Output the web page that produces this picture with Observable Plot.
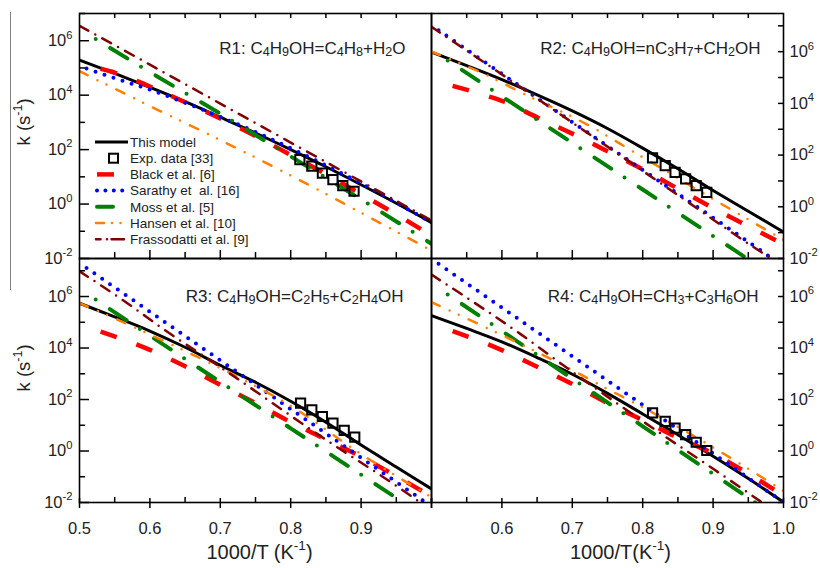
<!DOCTYPE html>
<html><head><meta charset="utf-8">
<script src="https://cdn.jsdelivr.net/npm/d3@7"></script>
<script src="https://cdn.jsdelivr.net/npm/@observablehq/plot@0.6"></script>
<style>
body{margin:0;background:#fff;}
#chart{position:relative;width:820px;height:568px;overflow:hidden;font-family:"Liberation Sans",Arial,sans-serif;background:#fff;}
#chart svg{position:absolute;}
</style></head><body><div id="chart"></div>
<script>
// ---------- data (x = 1000/T, values = log10 k) ----------
const modelX = [0.5,0.55,0.6,0.65,0.7,0.75,0.8,0.85,0.9,0.95,1.0];
const r1ModelLogK = [5.29,4.80,4.29,3.76,3.19,2.61,2.00,1.37,0.71,0.03,-0.68];
const r2ModelLogK = [5.98,5.46,4.92,4.33,3.71,3.03,2.27,1.47,0.63,-0.17,-0.98];
const r3ModelLogK = [5.74,5.21,4.66,4.03,3.33,2.67,1.93,1.12,0.23,-0.62,-1.47];
const r4ModelLogK = [5.26,4.76,4.24,3.63,2.98,2.24,1.44,0.63,-0.20,-1.07,-1.99];

const r1ExpX = [0.813,0.830,0.845,0.860,0.874,0.890];
const r1ExpLogK = [1.63,1.39,1.14,0.90,0.68,0.47];
const r2ExpX = [0.814,0.832,0.846,0.861,0.876,0.891];
const r2ExpLogK = [1.89,1.59,1.33,1.08,0.82,0.56];
const r3ExpX = [0.814,0.830,0.845,0.860,0.876,0.891];
const r3ExpLogK = [1.86,1.60,1.34,1.08,0.80,0.54];
const r4ExpX = [0.814,0.832,0.846,0.861,0.876,0.891];
const r4ExpLogK = [1.48,1.15,0.89,0.64,0.34,0.02];

const r1Black = [[0.53,4.97],[0.55,4.83],[0.6,4.32],[0.65,3.74],[0.7,3.14],[0.75,2.50],[0.8,1.80],[0.85,1.10],[0.9,0.36],[0.95,-0.38],[1.0,-1.16]];
const r2Black = [[0.53,4.68],[0.58,4.28],[0.6,4.10],[0.65,3.46],[0.7,2.83],[0.75,2.15],[0.8,1.45],[0.85,0.70],[0.9,-0.05],[0.95,-0.75],[1.0,-1.45]];
const r3Black = [[0.53,4.64],[0.6,3.93],[0.65,3.29],[0.7,2.57],[0.75,1.86],[0.8,1.12],[0.85,0.45],[0.9,-0.22],[0.95,-0.98],[1.0,-1.77]];
const r4Black = [[0.53,4.66],[0.6,3.92],[0.65,3.27],[0.7,2.60],[0.75,1.86],[0.8,1.20],[0.85,0.52],[0.9,-0.10],[0.95,-0.88],[1.0,-1.73]];

const r1Sarathy = [[0.51,4.98],[0.55,4.62],[0.6,4.20],[0.65,3.72],[0.7,3.20],[0.75,2.65],[0.8,2.05],[0.85,1.42],[0.9,0.76],[0.95,0.05],[1.0,-0.68]];
const r2Sarathy = [[0.51,6.83],[0.62,4.77],[0.73,2.72],[0.81,1.24],[0.93,-0.98],[1.0,-2.30]];
const r3Sarathy = [[0.51,7.11],[0.6,5.41],[0.7,3.52],[0.8,1.63],[0.9,-0.26],[1.0,-2.15]];
const r4Sarathy = [[0.51,7.27],[0.6,5.57],[0.7,3.68],[0.8,1.79],[0.9,-0.10],[1.0,-1.99]];

const r1Moss = [[0.523,6.06],[0.6,4.85],[0.7,3.32],[0.8,1.75],[0.9,0.17],[1.0,-1.46]];
const r2Moss = [[0.523,5.66],[0.6,4.27],[0.7,2.47],[0.8,0.67],[0.9,-1.13],[0.96,-2.21]];
const r3Moss = [[0.523,5.88],[0.6,4.48],[0.7,2.68],[0.8,0.88],[0.9,-0.92],[0.98,-2.36]];
const r4Moss = [[0.523,6.08],[0.6,4.66],[0.7,2.81],[0.8,0.96],[0.9,-0.89],[0.98,-2.37]];

const r1Hansen = [[0.5,4.88],[0.6,3.60],[0.7,2.35],[0.8,1.05],[0.9,-0.32],[1.0,-1.71]];
const r2Hansen = [[0.5,6.00],[0.57,5.20],[0.64,4.25],[0.72,3.20],[0.79,2.08],[0.89,0.46],[1.0,-1.28]];
const r3Hansen = [[0.5,5.74],[0.55,5.15],[0.6,4.52],[0.7,3.22],[0.8,1.75],[0.9,-0.12],[1.0,-1.79]];
const r4Hansen = [[0.5,5.78],[0.6,4.50],[0.7,3.15],[0.75,2.41],[0.8,1.70],[0.9,0.14],[1.0,-1.55]];

const r1Frass = [[0.5,6.55],[0.6,5.12],[0.7,3.69],[0.8,2.26],[0.9,0.83],[1.0,-0.60]];
const r2Frass = [[0.5,6.96],[0.62,4.75],[0.73,2.70],[0.84,0.64],[0.97,-1.78],[1.0,-2.30]];
const r3Frass = [[0.5,6.98],[0.57,5.70],[0.62,4.72],[0.7,3.26],[0.84,0.62],[0.97,-1.73],[1.0,-2.32]];
const r4Frass = [[0.5,6.85],[0.626,4.55],[0.7,3.08],[0.826,0.67],[0.9,-0.69],[0.969,-1.99],[1.0,-2.58]];

const seriesNames = ["This model","Exp. data [33]","Black et al. [6]","Sarathy et  al. [16]","Moss et al. [5]","Hansen et al. [10]","Frassodatti et al. [9]"];
const panelTitles = [
  "R1: C_{4}H_{9}OH=C_{4}H_{8}+H_{2}O",
  "R2: C_{4}H_{9}OH=nC_{3}H_{7}+CH_{2}OH",
  "R3: C_{4}H_{9}OH=C_{2}H_{5}+C_{2}H_{4}OH",
  "R4: C_{4}H_{9}OH=CH_{3}+C_{3}H_{6}OH"
];
const yTickValues = [1e-2, 1, 1e2, 1e4, 1e6];
const yTickLabels = ["10^{-2}","10^{0}","10^{2}","10^{4}","10^{6}"];
const yMinorValues = [1e-1, 1e1, 1e3, 1e5, 1e7];
const xMajorValues = [0.6, 0.7, 0.8, 0.9];
const xMinorValues = [0.55, 0.65, 0.75, 0.85, 0.95];
const xEdgeValues = [0.5, 1.0];
const xLabelsLeftValues = [0.5, 0.6, 0.7, 0.8, 0.9];
const xLabelsLeft = ["0.5","0.6","0.7","0.8","0.9"];
const xLabelsRightValues = [0.6, 0.7, 0.8, 0.9, 1.0];
const xLabelsRight = ["0.6","0.7","0.8","0.9","1.0"];
const yTitle = "k (s^{-1})";
const xTitleLeft = "1000/T (K^{-1})";
const xTitleRight = "1000/T(K^{-1})";

// ---------- styles ----------
const S = {
  model:   {stroke:"#000000", strokeWidth:3},
  black:   {stroke:"#ff0000", strokeWidth:4.5, strokeDasharray:"17,21", strokeLinecap:"butt"},
  sarathy: {stroke:"#0000ff", strokeWidth:4, strokeDasharray:"0,9.5", strokeLinecap:"round"},
  moss:    {stroke:"#008000", strokeWidth:4, strokeDasharray:"0,17,20,16", strokeLinecap:"round"},
  hansen:  {stroke:"#ff8000", strokeWidth:2.5, strokeDasharray:"9,11,0,10,0,11", strokeLinecap:"round"},
  frass:   {stroke:"#800000", strokeWidth:2.5, strokeDasharray:"10,8,0,8", strokeLinecap:"round"}
};
const FONT = '"Liberation Sans", Arial, sans-serif';
const chart = document.getElementById("chart");

function richText(svg) {
  svg.querySelectorAll("text").forEach(t => {
    const s = t.textContent;
    if (!/[\^_]\{/.test(s)) return;
    const fs = parseFloat(getComputedStyle(t).fontSize) || 16;
    t.textContent = "";
    const re = /([\^_])\{([^}]*)\}/g;
    let last = 0, shift = 0, m;
    const add = (txt, size, dy) => {
      const ts = document.createElementNS("http://www.w3.org/2000/svg", "tspan");
      ts.textContent = txt;
      if (size) ts.setAttribute("font-size", size);
      if (dy) ts.setAttribute("dy", dy);
      t.appendChild(ts);
    };
    while ((m = re.exec(s))) {
      if (m.index > last) { add(s.slice(last, m.index), null, -shift); shift = 0; }
      const sup = m[1] === "^";
      const d = sup ? -0.45 * fs : 0.12 * fs;
      add(m[2], (sup ? 0.68 : 0.74) * fs, d - shift);
      shift = d;
      last = re.lastIndex;
    }
    if (last < s.length) add(s.slice(last), null, -shift);
  });
}

const toPts = (pairs) => pairs.map(([x, v]) => ({x, k: 10 ** v}));

function panel(cfg) {
  const {left, top, width, height, mL, mR, mT, mB, yMax, model, expX, expLogK,
         black, sarathy, moss, hansen, frass, title, titleDx, titleDy, side, bottom,
         xVals, xLabs, xTitle, xTitleDx, yTitleDy} = cfg;
  const fw = width - mL - mR, fh = height - mT - mB;
  const lineOpts = (st) => ({x: "x", y: "k", curve: "monotone-x", clip: true, strokeLinejoin: "round", ...st});
  const modelPts = modelX.map((x, i) => ({x, k: 10 ** model[i]}));
  const expPts = expX.map((x, i) => ({x, k: 10 ** expLogK[i]}));
  const fmtY = d => yTickLabels[yTickValues.indexOf(d)];
  const marks = [
    Plot.line(modelPts, lineOpts(S.model)),
    Plot.line(toPts(black), lineOpts(S.black)),
    Plot.line(toPts(sarathy), lineOpts(S.sarathy)),
    Plot.line(toPts(moss), lineOpts(S.moss)),
    Plot.line(toPts(hansen), lineOpts(S.hansen)),
    Plot.line(toPts(frass), lineOpts(S.frass)),
    Plot.dot(expPts, {x: "x", y: "k", symbol: "square", r: 5.2, stroke: "#000", strokeWidth: 2, fill: "none"}),
  ];
  if (side === "left") {
    marks.push(Plot.tickY(yTickValues, {y: d => d, insetRight: fw - 10, stroke: "#000", strokeWidth: 1.5}));
    marks.push(Plot.tickY(yMinorValues, {y: d => d, insetRight: fw - 6, stroke: "#000", strokeWidth: 1.5}));
    marks.push(Plot.axisY(yTickValues, {anchor: "left", label: null, tickSize: 0, tickPadding: 7, tickFormat: fmtY, fontSize: 16.5, fill: "#222"}));
    marks.push(Plot.text([yTitle], {text: d => d, frameAnchor: "left", rotate: -90, dx: -55, dy: yTitleDy, fontSize: 18.5, fill: "#222"}));
  } else {
    marks.push(Plot.tickY(yTickValues.concat(yMinorValues), {y: d => d, insetLeft: fw - 5, stroke: "#000", strokeWidth: 1.5}));
    marks.push(Plot.axisY(yTickValues, {anchor: "right", label: null, tickSize: 0, tickPadding: 6, tickFormat: fmtY, fontSize: 16.5, fill: "#222"}));
  }
  if (!bottom) {
    marks.push(Plot.tickX(xMajorValues.concat(xMinorValues), {x: d => d, insetBottom: fh - 5, stroke: "#000", strokeWidth: 1.5}));
    marks.push(Plot.tickX(xMajorValues, {x: d => d, insetTop: fh - 8, insetBottom: -2, stroke: "#000", strokeWidth: 1.5}));
    marks.push(Plot.tickX(xMinorValues, {x: d => d, insetTop: fh - 6, stroke: "#000", strokeWidth: 1.5}));
  } else {
    marks.push(Plot.tickX(xMajorValues.concat(xEdgeValues), {x: d => d, insetTop: fh - 4, insetBottom: -6, stroke: "#000", strokeWidth: 1.5}));
    marks.push(Plot.tickX(xMinorValues, {x: d => d, insetTop: fh - 5, stroke: "#000", strokeWidth: 1.5}));
    marks.push(Plot.axisX(xVals, {anchor: "bottom", label: null, tickSize: 0, tickPadding: 20, fontSize: 16.5, fill: "#222",
      tickFormat: d => xLabs[xVals.indexOf(d)]}));
    marks.push(Plot.text([xTitle], {text: d => d, frameAnchor: "bottom", dx: xTitleDx, dy: 56, fontSize: 20, fill: "#222"}));
  }
  marks.push(Plot.text([title], {text: d => d, frameAnchor: "top-right", textAnchor: "end", dx: titleDx, dy: titleDy, fontSize: 17, fill: "#222"}));
  marks.push(Plot.frame({stroke: "#000", strokeWidth: 1.6}));

  const svg = Plot.plot({
    width, height, marginLeft: mL, marginRight: mR, marginTop: mT, marginBottom: mB,
    x: {domain: [0.5, 1.0], axis: null, label: null},
    y: {type: "log", domain: [0.01, yMax], axis: null, label: null},
    style: {fontFamily: FONT, background: "transparent", overflow: "visible", color: "#222"},
    marks
  });
  svg.style.left = left + "px";
  svg.style.top = top + "px";
  chart.appendChild(svg);
  richText(svg);
}

panel({left: 0, top: 0, width: 431, height: 258, mL: 79, mR: 0, mT: 13, mB: 0, yMax: 1e7,
  model: r1ModelLogK, expX: r1ExpX, expLogK: r1ExpLogK, black: r1Black, sarathy: r1Sarathy, moss: r1Moss, hansen: r1Hansen, frass: r1Frass,
  title: panelTitles[0], titleDx: -26, titleDy: 28.4, side: "left", bottom: false, yTitleDy: 9.5});
panel({left: 431, top: 0, width: 389, height: 258, mL: 0, mR: 37, mT: 13, mB: 0, yMax: 3e7,
  model: r2ModelLogK, expX: r2ExpX, expLogK: r2ExpLogK, black: r2Black, sarathy: r2Sarathy, moss: r2Moss, hansen: r2Hansen, frass: r2Frass,
  title: panelTitles[1], titleDx: -23, titleDy: 28.4, side: "right", bottom: false});
panel({left: 0, top: 258, width: 431, height: 310, mL: 79, mR: 0, mT: 0, mB: 66, yMax: 3e7,
  model: r3ModelLogK, expX: r3ExpX, expLogK: r3ExpLogK, black: r3Black, sarathy: r3Sarathy, moss: r3Moss, hansen: r3Hansen, frass: r3Frass,
  title: panelTitles[2], titleDx: -28, titleDy: 31.7, side: "left", bottom: true,
  xVals: xLabelsLeftValues, xLabs: xLabelsLeft, xTitle: xTitleLeft, xTitleDx: 4, yTitleDy: 11});
panel({left: 431, top: 258, width: 389, height: 310, mL: 0, mR: 37, mT: 0, mB: 66, yMax: 3e7,
  model: r4ModelLogK, expX: r4ExpX, expLogK: r4ExpLogK, black: r4Black, sarathy: r4Sarathy, moss: r4Moss, hansen: r4Hansen, frass: r4Frass,
  title: panelTitles[3], titleDx: -25, titleDy: 31.7, side: "right", bottom: true,
  xVals: xLabelsRightValues, xLabs: xLabelsRight, xTitle: xTitleRight, xTitleDx: 13});

// ---------- legend (inside R1 panel) ----------
const lg = d3.create("svg").attr("width", 200).attr("height", 120)
  .style("left", "85px").style("top", "132px").style("overflow", "visible")
  .attr("font-family", FONT);
const ox = 85, oy = 132;
const rowY = i => 142 + i * 16.2 - oy;
const sw = [
  {x1: 95, x2: 128, st: S.model},
  null,
  {x1: 97, x2: 114, st: {...S.black, strokeDasharray: null}},
  {x1: 97, x2: 123, st: {...S.sarathy, strokeDasharray: "0,8.4"}},
  {x1: 97, x2: 113, st: {...S.moss, strokeDasharray: null}},
  {x1: 96, x2: 123, st: {...S.hansen, strokeDasharray: "8,8,0,8.5,0,30"}},
  {x1: 96, x2: 124, st: {...S.frass, strokeDasharray: "4.5,6.5,0,4.5,20"}}
];
seriesNames.forEach((name, i) => {
  const y = rowY(i);
  const s = sw[i];
  if (s) {
    lg.append("line").attr("x1", s.x1 - ox).attr("x2", s.x2 - ox).attr("y1", y).attr("y2", y)
      .attr("stroke", s.st.stroke).attr("stroke-width", s.st.strokeWidth)
      .attr("stroke-dasharray", s.st.strokeDasharray || null)
      .attr("stroke-linecap", s.st.strokeLinecap || "butt");
  } else {
    lg.append("rect").attr("x", 113.5 - 4.5 - ox).attr("y", y - 4.5).attr("width", 9).attr("height", 9)
      .attr("fill", "none").attr("stroke", "#000").attr("stroke-width", 2);
  }
  lg.append("text").attr("x", 130 - ox).attr("y", y).attr("dy", "0.35em")
    .attr("font-size", 13.5).attr("fill", "#222").style("white-space", "pre").text(name);
});
chart.appendChild(lg.node());

// thin grey rule at the far left of the figure
const rule = document.createElement("div");
rule.style.cssText = "position:absolute;left:9.5px;top:12px;width:1.5px;height:278px;background:#808080;";
chart.appendChild(rule);
</script></body></html>
